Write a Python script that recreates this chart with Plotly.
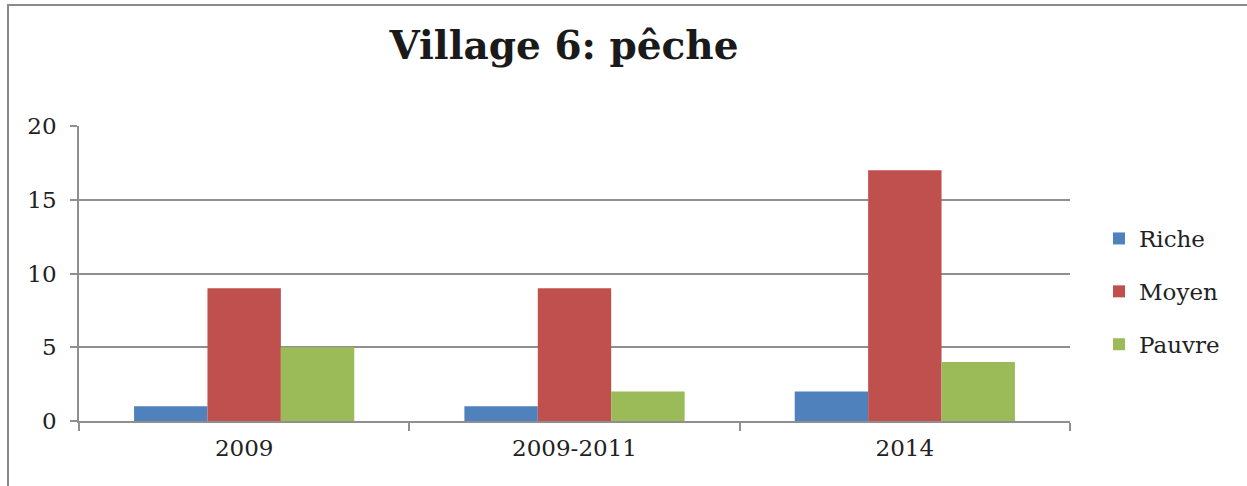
import plotly.graph_objects as go

# Fishing activity by household wealth group, village 6
periods = ["2009", "2009-2011", "2014"]
riche = [1, 1, 2]
moyen = [9, 9, 17]
pauvre = [5, 2, 4]
y_ticks = [0, 5, 10, 15, 20]

W, H = 1247, 486
L, R, T, B = 79, 177, 126, 65
pw, ph = W - L - R, H - T - B

font_family = "DejaVu Serif"
grid = "#8f8f8f"

fig = go.Figure()
series = [("Riche", riche, "#4F81BD"), ("Moyen", moyen, "#C0504D"), ("Pauvre", pauvre, "#9BBB59")]
for name, vals, col in series:
    fig.add_trace(go.Bar(x=periods, y=vals, name=name, legendgroup=name,
                         marker=dict(color=col, line=dict(width=0))))


def px_x(p):
    return (p - L) / pw


def px_y(p):
    return (H - B - p) / ph


fig.update_layout(
    width=W, height=H,
    margin=dict(l=L, r=R, t=T, b=B),
    paper_bgcolor="white", plot_bgcolor="white",
    barmode="group", bargap=1/3, bargroupgap=0,
    font=dict(family=font_family, size=23, color="#222222"),
    title=dict(text="<b>Village 6: pêche</b>", x=564 / W, xanchor="center",
               y=1 - 45 / H, yanchor="middle", yref="container",
               font=dict(family=font_family, size=39, color="#1a1a1a")),
    legend=dict(x=px_x(1099), xanchor="left", y=px_y(217), yanchor="top",
                traceorder="grouped", tracegroupgap=20,
                font=dict(size=23, color="#222222"), bgcolor="rgba(0,0,0,0)"),
    xaxis=dict(showline=True, linecolor=grid, linewidth=1.5,
               ticks="outside", ticklen=8, tickcolor=grid, tickwidth=1.5,
               tickson="boundaries", showgrid=False, ticklabelstandoff=6),
    yaxis=dict(range=[0, 20], tickvals=y_ticks, showline=True, linecolor=grid, linewidth=1.5,
               ticks="outside", ticklen=7, tickcolor=grid, tickwidth=1.5,
               showgrid=True, gridcolor=grid, gridwidth=1.5, zeroline=False,
               ticklabelstandoff=9),
    shapes=[dict(type="rect", xref="paper", yref="paper",
                 x0=px_x(8), x1=px_x(1300), y0=px_y(540), y1=px_y(5),
                 line=dict(color="#8a8a8a", width=2), fillcolor="rgba(0,0,0,0)", layer="below")],
)

fig.write_html("out.html")
